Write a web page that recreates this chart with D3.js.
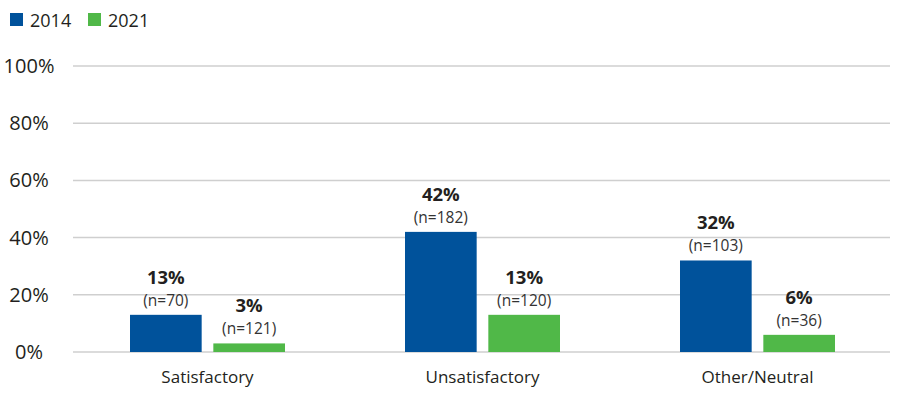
<!DOCTYPE html>
<html>
<head>
<meta charset="utf-8">
<script src="https://cdn.jsdelivr.net/npm/d3@7"></script>
<style>
  body { margin: 0; background: #fff; }
  text { font-family: "Open Sans", "Noto Sans", sans-serif; fill: #231f20; }
</style>
</head>
<body>
<div id="chart"></div>
<script>
// data
var categories = [ 'Satisfactory', 'Unsatisfactory', 'Other/Neutral' ];
var years = [ '2014', '2021' ];
var values2014 = [ 13, 42, 32 ];
var values2021 = [ 3, 13, 6 ];
var counts2014 = [ 70, 182, 103 ];
var counts2021 = [ 121, 120, 36 ];
var yTicks = [ 0, 20, 40, 60, 80, 100 ];

var colors = { '2014': '#00529b', '2021': '#50b848' };

var width = 900, height = 394;
var gridLeft = 73, gridRight = 890;

var svg = d3.select( '#chart' ).append( 'svg' )
    .attr( 'width', width )
    .attr( 'height', height );

var x = d3.scaleBand().domain( categories ).range( [ 70, 895 ] );
var sub = d3.scaleBand().domain( years ).range( [ 0, 155 ] ).paddingInner( 0.14 );
var y = d3.scaleLinear().domain( [ 0, 100 ] ).range( [ 352, 66 ] );

// grid
svg.selectAll( 'line.grid' )
   .data( yTicks )
   .enter()
   .append( 'line' )
   .attr( 'class', 'grid' )
   .attr( 'x1', gridLeft )
   .attr( 'x2', gridRight )
   .attr( 'y1', function( d ) { return y( d ); } )
   .attr( 'y2', function( d ) { return y( d ); } )
   .attr( 'stroke', '#cfcfcf' )
   .attr( 'stroke-width', 1.5 );

// y labels
svg.selectAll( 'text.ytick' )
   .data( yTicks )
   .enter()
   .append( 'text' )
   .attr( 'x', 29 )
   .attr( 'y', function( d ) { return y( d ) + 7; } )
   .attr( 'text-anchor', 'middle' )
   .style( 'font-size', '20px' )
   .text( function( d ) { return d + '%'; } );

// rows of bars
var rows = [];
categories.forEach( function( c, i ) {
    rows.push( { cat: c, year: '2014', value: values2014[ i ], n: counts2014[ i ] } );
    rows.push( { cat: c, year: '2021', value: values2021[ i ], n: counts2021[ i ] } );
});

function barX( d ) {
    return x( d.cat ) + ( x.bandwidth() - 155 ) / 2 + sub( d.year );
}

svg.selectAll( 'rect.bar' )
   .data( rows )
   .enter()
   .append( 'rect' )
   .attr( 'x', barX )
   .attr( 'y', function( d ) { return y( d.value ); } )
   .attr( 'width', sub.bandwidth() )
   .attr( 'height', function( d ) { return y( 0 ) - y( d.value ); } )
   .attr( 'fill', function( d ) { return colors[ d.year ]; } );

svg.selectAll( 'text.val' )
   .data( rows )
   .enter()
   .append( 'text' )
   .attr( 'x', function( d ) { return barX( d ) + sub.bandwidth() / 2; } )
   .attr( 'y', function( d ) { return y( d.value ) - 31; } )
   .attr( 'text-anchor', 'middle' )
   .style( 'font-size', '18.5px' )
   .style( 'font-weight', 'bold' )
   .text( function( d ) { return d.value + '%'; } );

svg.selectAll( 'text.n' )
   .data( rows )
   .enter()
   .append( 'text' )
   .attr( 'x', function( d ) { return barX( d ) + sub.bandwidth() / 2; } )
   .attr( 'y', function( d ) { return y( d.value ) - 9; } )
   .attr( 'text-anchor', 'middle' )
   .style( 'font-size', '15.5px' )
   .style( 'fill', '#333' )
   .text( function( d ) { return '(n=' + d.n + ')'; } );

// x labels
svg.selectAll( 'text.xlab' )
   .data( categories )
   .enter()
   .append( 'text' )
   .attr( 'x', function( d ) { return x( d ) + x.bandwidth() / 2; } )
   .attr( 'y', 383 )
   .attr( 'text-anchor', 'middle' )
   .style( 'font-size', '17px' )
   .text( function( d ) { return d; } );

// legend
var legend = svg.selectAll( 'g.legend' )
   .data( years )
   .enter()
   .append( 'g' )
   .attr( 'transform', function( d, i ) { return 'translate(' + ( 10 + i * 78 ) + ',0)'; } );

legend.append( 'rect' )
   .attr( 'x', 0 )
   .attr( 'y', 13 )
   .attr( 'width', 13 )
   .attr( 'height', 13 )
   .attr( 'fill', function( d ) { return colors[ d ]; } );

legend.append( 'text' )
   .attr( 'x', 20 )
   .attr( 'y', 27 )
   .style( 'font-size', '18px' )
   .text( function( d ) { return d; } );
</script>
</body>
</html>
